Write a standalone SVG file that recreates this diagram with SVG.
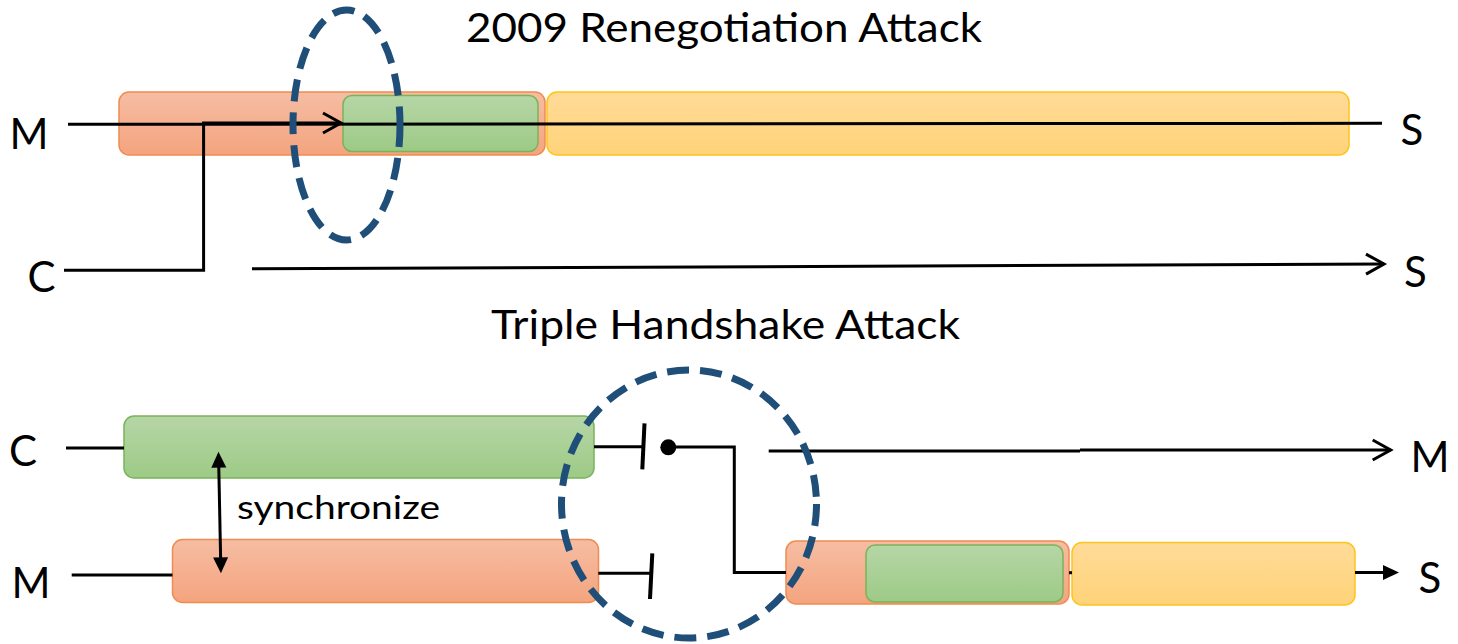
<svg xmlns="http://www.w3.org/2000/svg" width="1458" height="644" viewBox="0 0 1458 644">
  <style>
    .lbl { font-family: Lato, "Open Sans", "Liberation Sans", sans-serif; font-size: 42px; fill: #000; }
    .title { font-family: Lato, "Open Sans", "Liberation Sans", sans-serif; font-size: 41.5px; fill: #000; }
    .note { font-family: Lato, "Open Sans", "Liberation Sans", sans-serif; font-size: 33px; fill: #000; }
    .wire { fill: none; stroke: #000; stroke-width: 3; }
    .bar { fill: none; stroke: #000; stroke-width: 4; }
    .orange { fill: url(#gOrange); stroke: #F08C50; stroke-width: 1.5; }
    .green { fill: url(#gGreen); stroke: #79B45A; stroke-width: 1.5; }
    .yellow { fill: url(#gYellow); stroke: #FFC419; stroke-width: 1.5; }
    .focus { fill: none; stroke: #1F4E79; stroke-width: 7; stroke-dasharray: 22 11; }
  </style>
  <defs>
    <linearGradient id="gOrange" x1="0" y1="0" x2="0" y2="1">
      <stop offset="0" stop-color="#F6BDA3"/>
      <stop offset="1" stop-color="#F4A47E"/>
    </linearGradient>
    <linearGradient id="gGreen" x1="0" y1="0" x2="0" y2="1">
      <stop offset="0" stop-color="#B6D6A6"/>
      <stop offset="1" stop-color="#9DCA86"/>
    </linearGradient>
    <linearGradient id="gYellow" x1="0" y1="0" x2="0" y2="1">
      <stop offset="0" stop-color="#FFDB99"/>
      <stop offset="1" stop-color="#FFD379"/>
    </linearGradient>
    <marker id="openArrow" markerUnits="userSpaceOnUse" orient="auto" refX="0" refY="0"
            markerWidth="40" markerHeight="40" viewBox="-20 -20 40 40" overflow="visible">
      <path d="M -18 -10 L 0 0 L -18 10" fill="none" stroke="#000" stroke-width="3"/>
    </marker>
    <marker id="solidArrow" markerUnits="userSpaceOnUse" orient="auto-start-reverse" refX="0" refY="0"
            markerWidth="40" markerHeight="40" viewBox="-20 -20 40 40" overflow="visible">
      <path d="M -10 -7.5 L 6 0 L -10 7.5 Z" fill="#000"/>
    </marker>
  </defs>

  <rect width="1458" height="644" fill="#fff"/>

  <!-- headings -->
  <text class="title" x="466" y="41.5" textLength="516" lengthAdjust="spacingAndGlyphs">2009 Renegotiation Attack</text>
  <text class="title" x="491" y="339" textLength="469" lengthAdjust="spacingAndGlyphs">Triple Handshake Attack</text>

  <!-- upper scenario: handshake phases on the M-S connection -->
  <g id="top-m-s-phase1"><rect class="orange" x="119" y="92" width="426" height="63" rx="10"/></g>
  <g id="top-c-s-phase"><rect class="green" x="343" y="95.5" width="195" height="56" rx="9"/></g>
  <g id="top-m-s-phase2"><rect class="yellow" x="547" y="92" width="802" height="63" rx="10"/></g>

  <!-- lower scenario: C-M and M-S connections -->
  <g id="bot-c-m-phase"><rect class="green" x="124" y="416" width="470" height="62" rx="10"/></g>
  <g id="bot-m-s-phase"><rect class="orange" x="172.5" y="539.5" width="426" height="63" rx="10"/></g>
  <g id="bot-m-s-phase1"><rect class="orange" x="786" y="541" width="283" height="63" rx="10"/></g>
  <g id="bot-c-s-phase"><rect class="green" x="866" y="545" width="197" height="57" rx="9"/></g>
  <g id="bot-m-s-phase2"><rect class="yellow" x="1072" y="542.5" width="283" height="62.5" rx="10"/></g>

  <!-- endpoint labels -->
  <g id="top-m"><text class="lbl" x="9.5" y="149">M</text></g>
  <g id="top-c"><text class="lbl" x="27.5" y="291.5">C</text></g>
  <g id="top-s1"><text class="lbl" x="1400.5" y="145">S</text></g>
  <g id="top-s2"><text class="lbl" x="1404" y="286.7">S</text></g>
  <g id="bot-c"><text class="lbl" x="9" y="465.7">C</text></g>
  <g id="bot-m"><text class="lbl" x="11.5" y="598.3">M</text></g>
  <g id="bot-m-right"><text class="lbl" x="1410.5" y="471.7">M</text></g>
  <g id="bot-s"><text class="lbl" x="1418.5" y="593.3">S</text></g>
  <g id="sync-label"><text class="note" x="237" y="519" textLength="203" lengthAdjust="spacingAndGlyphs">synchronize</text></g>

  <!-- connectors -->
  <g id="connectors">
    <!-- upper scenario -->
    <line class="wire" x1="68" y1="124.3" x2="1382" y2="123.3"/>
    <path class="wire" d="M 64 270.3 H 203.6 V 123 H 341" marker-end="url(#openArrow)"/>
    <line class="wire" x1="252" y1="268.8" x2="1384" y2="264" marker-end="url(#openArrow)"/>

    <!-- lower scenario: C side -->
    <line class="wire" x1="66" y1="448" x2="124" y2="448"/>
    <line class="wire" x1="594" y1="446.8" x2="642" y2="446.8"/>
    <line class="bar" x1="644.5" y1="423.3" x2="642.3" y2="469.3"/>
    <circle cx="668.3" cy="447.3" r="8" fill="#000"/>
    <path class="wire" d="M 668 447 H 734.3 V 572.5 H 786"/>
    <path class="wire" d="M 768.7 451 H 1080 M 1080 450 H 1390.7" marker-end="url(#openArrow)"/>

    <!-- lower scenario: M side -->
    <line class="wire" x1="71.7" y1="575" x2="172.5" y2="575"/>
    <line class="wire" x1="598.3" y1="573.3" x2="650" y2="573.3"/>
    <line class="bar" x1="652.3" y1="553.3" x2="650" y2="599"/>
    <line class="wire" x1="1069" y1="572.7" x2="1072" y2="572.7"/>
    <line class="wire" x1="1355" y1="572.5" x2="1393" y2="572.5" marker-end="url(#solidArrow)"/>

    <!-- synchronize -->
    <line class="wire" x1="218.6" y1="457.7" x2="220.8" y2="567.3" marker-start="url(#solidArrow)" marker-end="url(#solidArrow)"/>
  </g>

  <!-- highlighted regions -->
  <g id="focus-renegotiation"><ellipse class="focus" cx="346.5" cy="125" rx="53.5" ry="115"/></g>
  <g id="focus-triple"><ellipse class="focus" cx="689" cy="504" rx="127.5" ry="134"/></g>
</svg>
